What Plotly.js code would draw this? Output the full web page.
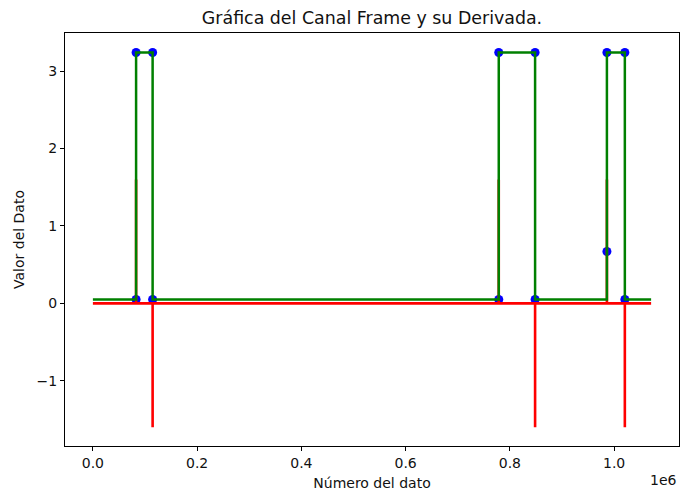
<!DOCTYPE html>
<html>
<head>
<meta charset="utf-8">
<script src="https://cdn.plot.ly/plotly-3.0.1.min.js"></script>
<style>html,body{margin:0;padding:0;background:#fff;}#chart{width:680px;height:491px;}</style>
</head>
<body>
<div id="chart"></div>
<script>
// Frame channel signal (step transitions)
const signalX = [0, 82900, 82900, 114600, 114600, 778700, 778700, 848400, 848400, 986200, 986200, 986200, 1020600, 1020600, 1071000];
const signalY = [0.05, 0.05, 3.24, 3.24, 0.05, 0.05, 3.24, 3.24, 0.05, 0.05, 0.67, 3.24, 3.24, 0.05, 0.05];

// Derivative of the signal
const derivX = [0, 82900, 82900, 82900, 114600, 114600, 114600, 778700, 778700, 778700, 848400, 848400, 848400, 986200, 986200, 986200, 1020600, 1020600, 1020600, 1071000];
const derivY = [0, 0, 1.6, 0, 0, -1.6, 0, 0, 1.6, 0, 0, -1.6, 0, 0, 1.6, 0, 0, -1.6, 0, 0];

// Detected edge points
const edgeX = [82900, 82900, 114600, 114600, 778700, 778700, 848400, 848400, 986200, 986200, 1020600, 1020600];
const edgeY = [0.05, 3.24, 3.24, 0.05, 0.05, 3.24, 3.24, 0.05, 0.67, 3.24, 3.24, 0.05];

// Axis ticks
const xTickVals = [0, 200000, 400000, 600000, 800000, 1000000];
const xTickText = ['0.0', '0.2', '0.4', '0.6', '0.8', '1.0'];
const yTickVals = [-1, 0, 1, 2, 3];

const traces = [
  {x: edgeX, y: edgeY, mode: 'markers', type: 'scatter',
   marker: {color: '#0000ff', size: 9}, hoverinfo: 'skip'},
  {x: derivX, y: derivY, mode: 'lines', type: 'scatter',
   line: {color: '#ff0000', width: 2.6}, hoverinfo: 'skip'},
  {x: signalX, y: signalY, mode: 'lines', type: 'scatter',
   line: {color: '#008000', width: 2.5}, hoverinfo: 'skip'}
];

const font = {family: 'DejaVu Sans, sans-serif', size: 14, color: '#111'};

const layout = {
  width: 680, height: 491,
  margin: {l: 65, r: 1, t: 33, b: 45},
  paper_bgcolor: '#fff', plot_bgcolor: '#fff',
  showlegend: false,
  font: font,
  title: {text: 'Gráfica del Canal Frame y su Derivada.', font: {family: 'DejaVu Sans, sans-serif', size: 17.4, color: '#111'},
          x: 0.5, xref: 'paper', y: 1 - 18/491, yref: 'container', yanchor: 'middle'},
  xaxis: {
    range: [-53500, 1124500], showgrid: false, zeroline: false,
    showline: true, mirror: true, linecolor: '#000', linewidth: 1,
    ticks: 'outside', ticklen: 4, tickcolor: '#000', tickwidth: 1,
    tickvals: xTickVals, ticktext: xTickText, tickfont: font,
    title: {text: 'Número del dato', font: font, standoff: 8}
  },
  yaxis: {
    range: [-1.8425, 3.4925], showgrid: false, zeroline: false,
    showline: true, mirror: true, linecolor: '#000', linewidth: 1,
    ticks: 'outside', ticklen: 4, tickcolor: '#000', tickwidth: 1,
    tickvals: yTickVals, tickfont: font,
    title: {text: 'Valor del Dato', font: font, standoff: 8}
  },
  annotations: [
    {text: '1e6', xref: 'paper', yref: 'paper', x: 1, y: 0, xanchor: 'right', yanchor: 'top',
     yshift: -24, showarrow: false, font: font}
  ]
};

Plotly.newPlot('chart', traces, layout, {staticPlot: true, displayModeBar: false});
</script>
</body>
</html>
